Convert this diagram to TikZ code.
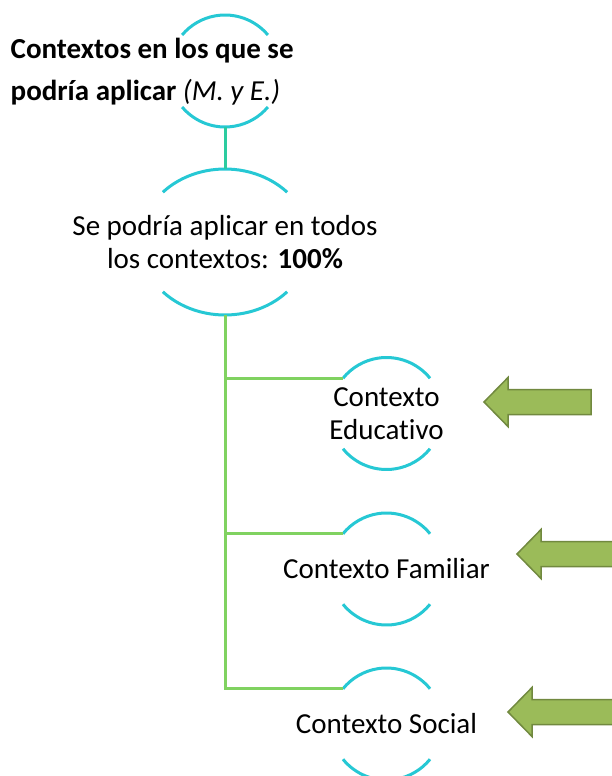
\documentclass[tikz,border=0pt]{standalone}
\usepackage{fontspec}
\setmainfont{Carlito}[Ligatures=NoCommon]
\usepackage{tikz}
\usetikzlibrary{calc}
\definecolor{arccolor}{RGB}{38,200,212}
\definecolor{linkcolor}{RGB}{44,204,160}
\definecolor{branchcolor}{RGB}{128,210,96}
\definecolor{arrowfill}{RGB}{155,187,89}
\definecolor{arrowline}{RGB}{113,137,63}

\begin{document}
\begin{tikzpicture}[x=1pt,y=1pt,
    ctxtext/.style={inner sep=0pt, align=center, font=\fontsize{29}{33}\selectfont},
    arcline/.style={arccolor, line width=3pt},
    linkline/.style={linkcolor, line width=3pt},
    branchline/.style={branchcolor, line width=3pt},
    blockarrow/.style={fill=arrowfill, draw=arrowline, line width=1.5pt}]

    % Page
    \clip (0,0) rectangle (612,-776);

    % Root circle and title
    \coordinate (root) at (225,-71);
    \draw[arcline] ([shift={(40:56pt)}]root) arc[start angle=40, end angle=140, radius=56pt];
    \draw[arcline] ([shift={(220:56pt)}]root) arc[start angle=220, end angle=320, radius=56pt];
    \coordinate (root-bot) at ([yshift=-56pt]root);
    \node[anchor=north west, inner sep=0pt, align=left, font=\bfseries\fontsize{29}{42}\selectfont] (title) at (10.5,-38)
        {Contextos en los que se\\podría aplicar {\mdseries\itshape (M. y E.)}};

    % All contexts
    \node[ctxtext] (all) at (225,-242) {Se podría aplicar en todos\\los contextos: \textbf{100\%}};
    \draw[arcline] ([shift={(43:85pt and 73pt)}]all.center) arc[start angle=43, end angle=137, x radius=85pt, y radius=73pt];
    \draw[arcline] ([shift={(223:85pt and 73pt)}]all.center) arc[start angle=223, end angle=317, x radius=85pt, y radius=73pt];
    \coordinate (all-top) at ([yshift=73pt]all.center);
    \coordinate (all-bot) at ([yshift=-73pt]all.center);
    \draw[linkline] (root-bot) -- (all-top);

    % Contexts
    \foreach \name/\y/\txt in {edu/413.5/{Contexto\\Educativo}, fam/569/{Contexto Familiar}, soc/724/{Contexto Social}} {
        \node[ctxtext] (\name) at (386.5,-\y) {\txt};
        \draw[arcline] ([shift={(39:56pt)}]\name.center) arc[start angle=39, end angle=141, radius=56pt];
        \draw[arcline] ([shift={(219:56pt)}]\name.center) arc[start angle=219, end angle=321, radius=56pt];
        \coordinate (\name-in) at ([shift={(141:56pt)}]\name.center);
    }

    % Branches
    \draw[branchline] (all-bot) |- (soc-in);
    \draw[branchline] (all-bot |- edu-in) -- (edu-in);
    \draw[branchline] (all-bot |- fam-in) -- (fam-in);

    % Block arrows
    \foreach \tipx/\tipy in {484/402, 517/554, 508/712} {
        \draw[blockarrow] (\tipx,-\tipy) -- ++(24,24.5) -- ++(0,-12) -- ++(83,0) -- ++(0,-25)
            -- ++(-83,0) -- ++(0,-12) -- cycle;
    }

\end{tikzpicture}
\end{document}
